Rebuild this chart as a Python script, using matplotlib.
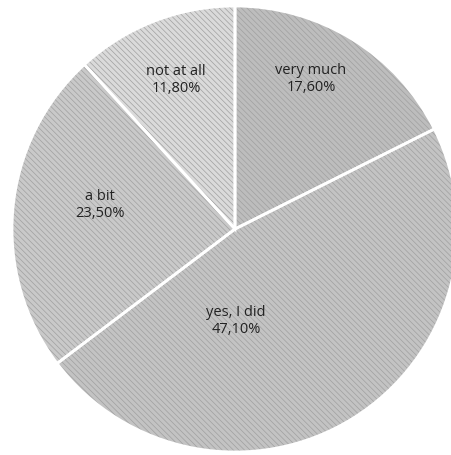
import matplotlib.pyplot as plt

labels = ["very much", "yes, I did", "a bit", "not at all"]
shares = [17.6, 47.1, 23.5, 11.8]
pct_text = ["17,60%", "47,10%", "23,50%", "11,80%"]

colors = ["#bdbdbd", "#c3c3c3", "#c9c9c9", "#dadada"]
# label centres in pixels (x, y from top), like the Excel "best fit" spots
label_pos = [(311, 79), (236, 321), (100, 205), (176, 80)]

plt.rcParams['hatch.color'] = "#a0a0a0"
plt.rcParams['hatch.linewidth'] = 0.5

W, H = 452, 455
fig = plt.figure(figsize=(W / 100, H / 100), dpi=100)
ax = fig.add_axes([0, 0, 1, 1])

cx, cy, r = 235, H - 229, 223

wedges, _ = ax.pie(shares, colors=colors, startangle=90, counterclock=False,
                   center=(cx, cy), radius=r, frame=True,
                   wedgeprops=dict(hatch='\\\\\\\\\\\\'))
# white separators on top
ax.pie(shares, startangle=90, counterclock=False, center=(cx, cy), radius=r,
       frame=True,
       wedgeprops=dict(fill=False, edgecolor='white', linewidth=2))
ax.set_xlim(0, W)
ax.set_ylim(0, H)
ax.set_aspect('equal')
ax.axis('off')

for lab, pct, (x, y) in zip(labels, pct_text, label_pos):
    ax.text(x, H - y, lab + "\n" + pct, ha='center', va='center',
            fontsize=10.5, family='Open Sans', color='#222222',
            linespacing=1.25)

fig.savefig("out.png", dpi=100)
plt.close(fig)
